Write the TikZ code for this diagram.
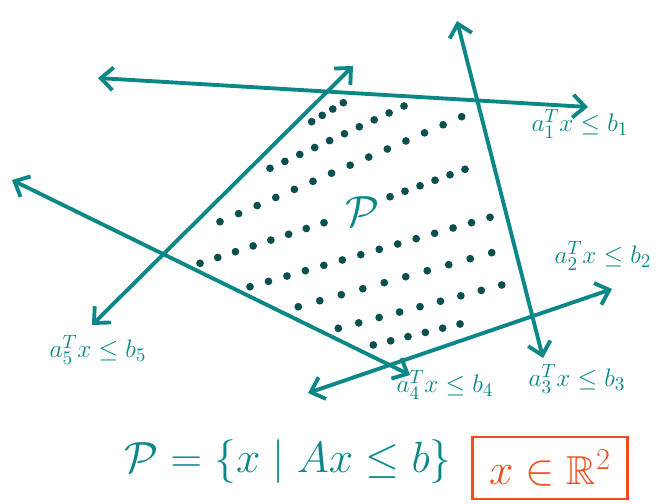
\documentclass[tikz,border=0pt]{standalone}
\usepackage{amsmath,amssymb}
\usepackage{tikz}
\usetikzlibrary{arrows.meta,positioning,calc}
\definecolor{InkTeal}{HTML}{0C8787}
\definecolor{InkDot}{HTML}{0A4F4F}
\definecolor{InkRed}{HTML}{F04E1E}

\begin{document}
\begin{tikzpicture}[x=0.02cm,y=-0.02cm,
halfplane/.style={InkTeal,line width=2.2pt,line cap=round,
  {Straight Barb[length=7pt,width=13pt,line width=2.2pt]}-{Straight Barb[length=7pt,width=13pt,line width=2.2pt]}},
ineq/.style={text=InkTeal,font=\fontsize{15}{18}\selectfont,inner sep=1pt},
bigtext/.style={text=InkTeal,inner sep=1pt}]
\useasboundingbox (0,0) rectangle (661,503);
% dotted interior, row by row
\foreach \sx/\sy/\ex/\ey/\n in {311.7/121.7/343.3/102.7/3, 270/168.3/404/106/9,
  220/221.7/461.7/116.7/13, 200/263.3/324/222.7/7, 390/196.7/465/169.3/5,
  250/286.7/490/217.3/13, 298.3/306.7/491.7/252.7/9, 338.3/328.3/501.7/285/8,
  373.3/345/460/324/5}
  \foreach \i in {0,...,\n}
    \fill[InkDot] ($(\sx,\sy)!\i/\n!(\ex,\ey)$) circle (2.2pt);
% the five bounding lines
\coordinate (h1a) at (98,78);   \coordinate (h1b) at (588,107);
\coordinate (h2a) at (308,393); \coordinate (h2b) at (612,289);
\coordinate (h3a) at (457,21);  \coordinate (h3b) at (543,358);
\coordinate (h4a) at (12,180);  \coordinate (h4b) at (410,375);
\coordinate (h5a) at (353,66);  \coordinate (h5b) at (92,325);
\draw[halfplane] (h1a) -- (h1b);
\draw[halfplane] (h2a) -- (h2b);
\draw[halfplane] (h3a) -- (h3b);
\draw[halfplane] (h4a) -- (h4b);
\draw[halfplane] (h5a) -- (h5b);
\node[ineq] (c1) at (580,124) {$a_1^{T}x\le b_1$};
\node[ineq] (c2) at (603,256) {$a_2^{T}x\le b_2$};
\node[ineq] (c3) at (577,379) {$a_3^{T}x\le b_3$};
\node[ineq] (c4) at (445,385) {$a_4^{T}x\le b_4$};
\node[ineq] (c5) at (98,350) {$a_5^{T}x\le b_5$};
\node[bigtext,font=\fontsize{28}{32}\selectfont] (poly) at (362,212) {$\mathcal{P}$};
\node[bigtext,font=\fontsize{25.5}{30}\selectfont] (pdef) at (288,462) {$\mathcal{P}=\{x\mid Ax\le b\}$};
\node[draw=InkRed,text=InkRed,line width=1.6pt,minimum width=3.1cm,minimum height=1.24cm,
  font=\fontsize{23}{27}\selectfont] (dom) at (550,468) {$x\in\mathbb{R}^2$};
\end{tikzpicture}
\end{document}
